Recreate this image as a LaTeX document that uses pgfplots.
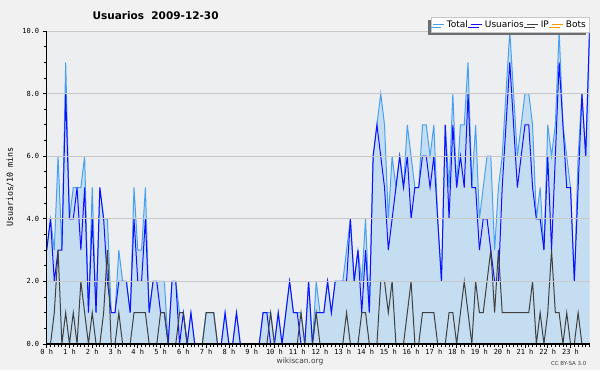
\documentclass[border=0pt]{standalone}
\usepackage{fontspec}
\setmainfont{DejaVu Sans}
\newfontfamily\monofont{DejaVu Sans Mono}
\usepackage{pgfplots}
\usepackage{pgfplotstable}
\pgfplotsset{compat=1.18}
\usetikzlibrary{shadows}
\definecolor{bgout}{RGB}{241,241,241}
\definecolor{plotbg}{RGB}{237,238,240}
\definecolor{gridc}{RGB}{200,200,202}
\definecolor{fillc}{RGB}{197,221,240}
\definecolor{totalc}{RGB}{72,160,240}
\definecolor{userc}{RGB}{16,16,255}
\definecolor{ipc}{RGB}{64,64,64}
\definecolor{botc}{RGB}{255,153,0}
\definecolor{shadowc}{RGB}{110,110,110}
\pgfplotstableread{
i T U P B
0 3 3 0 0
1 4 4 0 0
2 3 2 1 0
3 6 3 3 0
4 3 3 0 0
5 9 8 1 0
6 4 4 0 0
7 5 4 1 0
8 5 5 0 0
9 5 3 2 0
10 6 5 1 0
11 1 1 0 0
12 5 4 1 0
13 1 1 0 0
14 5 5 0 0
15 4 4 1 0
16 4 2 3 0
17 1 1 0 0
18 1 1 0 0
19 3 2 1 0
20 2 2 0 0
21 2 2 0 0
22 1 1 0 0
23 5 4 1 0
24 3 2 1 0
25 3 2 1 0
26 5 4 1 0
27 1 1 0 0
28 2 2 0 0
29 2 2 0 0
30 2 1 1 0
31 2 1 1 0
32 0 0 0 0
33 2 2 0 0
34 2 2 0 0
35 1 0 1 0
36 1 1 1 0
37 0 0 0 0
38 1 1 0 0
39 0 0 0 0
40 0 0 0 0
41 0 0 0 0
42 1 0 1 0
43 1 0 1 0
44 1 0 1 0
45 0 0 0 0
46 0 0 0 0
47 1 1 0 0
48 0 0 0 0
49 0 0 0 0
50 1 1 0 0
51 0 0 0 0
52 0 0 0 0
53 0 0 0 0
54 0 0 0 0
55 0 0 0 0
56 0 0 0 0
57 1 1 0 0
58 1 1 0 0
59 1 0 1 0
60 0 0 0 0
61 1 1 0 0
62 0 0 0 0
63 1 1 0 0
64 2 2 0 0
65 1 1 0 0
66 1 1 0 0
67 1 0 1 0
68 0 0 0 0
69 2 2 0 0
70 0 0 0 0
71 2 1 1 0
72 1 1 0 0
73 1 1 0 0
74 2 2 0 0
75 1 1 0 0
76 2 2 0 0
77 2 2 0 0
78 2 2 0 0
79 3 2 1 0
80 4 4 0 0
81 2 2 0 0
82 3 3 0 0
83 2 1 1 0
84 4 3 1 0
85 1 1 0 0
86 6 6 0 0
87 7 7 0 0
88 8 6 2 0
89 7 5 2 0
90 4 3 1 0
91 6 4 2 0
92 5 5 0 0
93 6 6 0 0
94 5 5 0 0
95 7 6 1 0
96 6 4 2 0
97 5 5 0 0
98 5 5 0 0
99 7 6 1 0
100 7 6 1 0
101 6 5 1 0
102 7 6 1 0
103 4 4 0 0
104 2 2 0 0
105 7 7 0 0
106 5 4 1 0
107 8 7 1 0
108 5 5 0 0
109 7 6 1 0
110 7 5 2 0
111 9 8 1 0
112 5 5 0 0
113 7 5 2 0
114 4 3 1 0
115 5 4 1 0
116 6 4 2 0
117 6 3 3 0
118 3 2 1 0
119 5 2 3 0
120 6 5 1 0
121 8 7 1 0
122 10 9 1 0
123 8 7 1 0
124 6 5 1 0
125 7 6 1 0
126 8 7 1 0
127 8 7 1 0
128 7 5 2 0
129 4 4 0 0
130 5 4 1 0
131 3 3 0 0
132 7 6 1 0
133 6 3 3 0
134 7 6 1 0
135 10 9 1 0
136 7 7 0 0
137 6 5 1 0
138 5 5 0 0
139 2 2 0 0
140 6 5 1 0
141 8 8 0 0
142 6 6 0 0
143 10 10 0 0
}\datatable
\begin{document}
\begin{tikzpicture}[x=1pt,y=1pt]
\useasboundingbox (0,0) rectangle (600,370);
\fill[bgout] (0,0) rectangle (600,370);
\begin{axis}[
  at={(46.7pt,26pt)}, anchor=south west, scale only axis,
  width=542.8pt, height=313pt,
  xmin=0, xmax=143, ymin=0, ymax=10,
  axis lines*=left,
  axis line style={black, line width=1.2pt},
  axis background/.style={fill=plotbg},
  axis on top,
  ymajorgrids, grid style={draw=gridc, line width=0.9pt},
  xtick={0,6,...,138},
  xticklabels={0 h,1 h,2 h,3 h,4 h,5 h,6 h,7 h,8 h,9 h,10 h,11 h,12 h,13 h,14 h,15 h,16 h,17 h,18 h,19 h,20 h,21 h,22 h,23 h},
  minor xtick={0,1,...,143},
  ytick={0,2,...,10},
  yticklabels={0.0,2.0,4.0,6.0,8.0,10.0},
  minor ytick={0,0.5,...,10},
  tick align=outside, major tick length=4pt, minor tick length=3pt,
  tick style={black, line width=0.8pt},
  ticklabel style={font=\monofont\fontsize{7}{8}\selectfont},
  xticklabel style={yshift=2.5pt},
  legend style={at={(axis description cs:1.0,1.045)}, anchor=north east,
    legend columns=4, draw=gray!45, fill=white,
    font=\fontsize{9}{10}\selectfont, inner sep=1.5pt,
    /tikz/every even column/.append style={column sep=1pt},
    general shadow={fill=shadowc, shadow xshift=-3pt, shadow yshift=-3pt}},
  legend cell align=left,
  legend image code/.code={\draw[#1, line width=1pt] (0pt,0pt) -- (11pt,0pt);},
]
\addplot[fill=fillc, draw=none, forget plot] table[x=i,y=T]{\datatable} \closedcycle;
\addplot[totalc, line width=1pt] table[x=i,y=T]{\datatable};
\addlegendentry{Total}
\addplot[userc, line width=1pt] table[x=i,y=U]{\datatable};
\addlegendentry{Usuarios}
\addplot[ipc, line width=1pt] table[x=i,y=P]{\datatable};
\addlegendentry{IP}
\addplot[botc, line width=1pt] table[x=i,y=B]{\datatable};
\addlegendentry{Bots}
\end{axis}
\node[anchor=west, font=\bfseries\fontsize{10.5}{12}\selectfont] at (89,354) {Usuarios\ \ 2009-12-30};
\node[rotate=90, font=\monofont\fontsize{8.3}{10}\selectfont] at (10,183) {Usuarios/10 mins};
\node[font=\fontsize{7.5}{9}\selectfont, black!75] at (300,9) {wikiscan.org};
\node[anchor=east, font=\fontsize{5.5}{6}\selectfont, black!75] at (590,7) {CC BY-SA 3.0};
\end{tikzpicture}
\end{document}
